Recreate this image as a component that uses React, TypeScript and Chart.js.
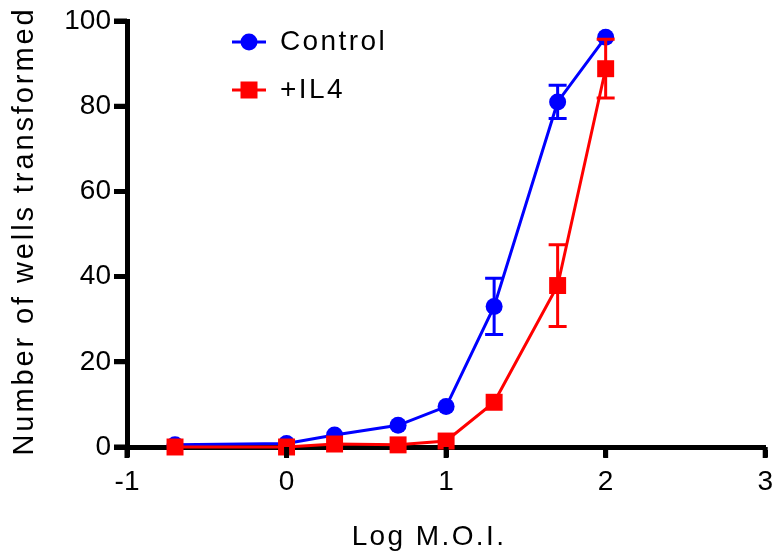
import React, { useEffect, useRef } from "react";
import { Chart, registerables } from "chart.js";

Chart.register(...registerables);

const logMOI = [-0.699, 0, 0.301, 0.699, 1, 1.301, 1.699, 2];
const controlMean = [0.5, 0.8, 2.8, 5.1, 9.5, 33, 81, 96.2];
const controlErr = [0, 0, 0, 0, 0, 6.6, 3.9, 0];
const il4Mean = [0, 0, 0.7, 0.5, 1.4, 10.5, 37.9, 88.8];
const il4Err = [0, 0, 0, 0, 0, 0, 9.6, 6.9];
const xTickValues = [-1, 0, 1, 2, 3];
const yTickValues = [0, 20, 40, 60, 80, 100];
const seriesNames = ["Control", "+IL4"];
const xTitle = "Log M.O.I.";
const yTitle = "Number of wells transformed";

const BLUE = "#0000ff";
const RED = "#ff0000";
const FONT = "'Liberation Sans', Arial, Helvetica, sans-serif";

const errorBarPlugin = {
  id: "errorBars",
  afterDatasetsDraw(chart: any) {
    const ctx = chart.ctx;
    const yScale = chart.scales.y;
    const errs = [controlErr, il4Err];
    const means = [controlMean, il4Mean];
    const colors = [BLUE, RED];
    for (let d = 0; d < 2; d++) {
      const meta = chart.getDatasetMeta(d);
      ctx.save();
      ctx.strokeStyle = colors[d];
      ctx.lineWidth = 3;
      meta.data.forEach((pt: any, j: number) => {
        const e = errs[d][j];
        if (!e) return;
        const x = pt.x;
        const yT = yScale.getPixelForValue(means[d][j] + e);
        const yB = yScale.getPixelForValue(means[d][j] - e);
        ctx.beginPath();
        ctx.moveTo(x, yT);
        ctx.lineTo(x, yB);
        ctx.moveTo(x - 9, yT);
        ctx.lineTo(x + 9, yT);
        ctx.moveTo(x - 9, yB);
        ctx.lineTo(x + 9, yB);
        ctx.stroke();
      });
      ctx.restore();
    }
  },
};

const textPlugin = {
  id: "texts",
  afterDraw(chart: any) {
    const ctx = chart.ctx;
    const area = chart.chartArea;
    const xs = chart.scales.x;
    const ys = chart.scales.y;
    ctx.save();
    // tick marks
    ctx.strokeStyle = "#000";
    ctx.lineWidth = 5;
    ctx.lineCap = "butt";
    ctx.beginPath();
    xTickValues.forEach((v) => {
      const px = xs.getPixelForValue(v);
      ctx.moveTo(px, area.bottom);
      ctx.lineTo(px, area.bottom + 11);
    });
    yTickValues.forEach((v) => {
      const py = ys.getPixelForValue(v);
      ctx.moveTo(area.left - 13, py);
      ctx.lineTo(area.left, py);
    });
    ctx.stroke();

    ctx.fillStyle = "#000";
    ctx.font = `28px ${FONT}`;
    (ctx as any).letterSpacing = "2.4px";
    ctx.textBaseline = "alphabetic";
    ctx.textAlign = "center";
    ctx.fillText(xTitle, 429, 545);
    ctx.save();
    ctx.font = `29px ${FONT}`;
    (ctx as any).letterSpacing = "2.9px";
    ctx.translate(33, 231);
    ctx.rotate(-Math.PI / 2);
    ctx.textAlign = "center";
    ctx.fillText(yTitle, 0, 0);
    ctx.restore();

    // legend
    const rows = [
      { y: 42, color: BLUE, shape: "circle", label: seriesNames[0] },
      { y: 90, color: RED, shape: "rect", label: seriesNames[1] },
    ];
    rows.forEach((r) => {
      ctx.strokeStyle = r.color;
      ctx.fillStyle = r.color;
      ctx.lineWidth = 3;
      ctx.beginPath();
      ctx.moveTo(232, r.y);
      ctx.lineTo(266, r.y);
      ctx.stroke();
      if (r.shape === "circle") {
        ctx.beginPath();
        ctx.arc(249, r.y, 8.5, 0, Math.PI * 2);
        ctx.fill();
      } else {
        ctx.fillRect(249 - 8.5, r.y - 8.5, 17, 17);
      }
      ctx.fillStyle = "#000";
      ctx.textAlign = "left";
      ctx.textBaseline = "alphabetic";
      ctx.fillText(r.label, 280, r.y + 8);
    });
    ctx.restore();
  },
};

export default function App() {
  const ref = useRef<HTMLCanvasElement | null>(null);
  useEffect(() => {
    if (!ref.current) return;
    const chart = new Chart(ref.current, {
      type: "line",
      data: {
        datasets: [
          {
            label: seriesNames[0],
            data: logMOI.map((x, i) => ({ x, y: controlMean[i] })),
            borderColor: BLUE,
            backgroundColor: BLUE,
            borderWidth: 3,
            pointStyle: "circle",
            pointRadius: 8.5,
            pointBorderWidth: 0,
            pointHoverRadius: 8.5,
            tension: 0,
            order: 1,
            clip: false as any,
          },
          {
            label: seriesNames[1],
            data: logMOI.map((x, i) => ({ x, y: il4Mean[i] })),
            borderColor: RED,
            backgroundColor: RED,
            borderWidth: 3,
            pointStyle: "rect",
            pointRadius: 12,
            pointBorderWidth: 0,
            pointHoverRadius: 12,
            tension: 0,
            order: 0,
            clip: false as any,
          },
        ],
      },
      options: {
        responsive: false,
        animation: false,
        layout: { padding: { left: 0, top: 21, right: 13, bottom: 0 } },
        plugins: { legend: { display: false }, tooltip: { enabled: false } },
        scales: {
          x: {
            type: "linear",
            min: xTickValues[0],
            max: xTickValues[xTickValues.length - 1],
            afterFit: (scale: any) => {
              scale.height = 113;
            },
            ticks: {
              stepSize: 1,
              color: "#000",
              font: { family: FONT, size: 28 },
              padding: 8,
              maxRotation: 0,
              autoSkip: false,
            },
            grid: {
              drawOnChartArea: false,
              drawTicks: true,
              tickLength: 10,
              tickWidth: 5,
              tickColor: "#000",
            },
            border: { display: true, width: 5, color: "#000" },
          },
          y: {
            type: "linear",
            min: yTickValues[0],
            max: yTickValues[yTickValues.length - 1],
            afterFit: (scale: any) => {
              scale.width = 127;
            },
            ticks: {
              stepSize: 20,
              color: "#000",
              font: { family: FONT, size: 28 },
              padding: 3,
              autoSkip: false,
            },
            grid: {
              drawOnChartArea: false,
              drawTicks: true,
              tickLength: 13,
              tickWidth: 5,
              tickColor: "#000",
            },
            border: { display: true, width: 5, color: "#000" },
          },
        },
      },
      plugins: [errorBarPlugin, textPlugin],
    });
    return () => chart.destroy();
  }, []);
  return (
    <div style={{ position: "absolute", left: 0, top: 0, width: 781, height: 560, background: "#fff" }}>
      <canvas ref={ref} width={781} height={560} style={{ display: "block", width: 781, height: 560 }} />
    </div>
  );
}
